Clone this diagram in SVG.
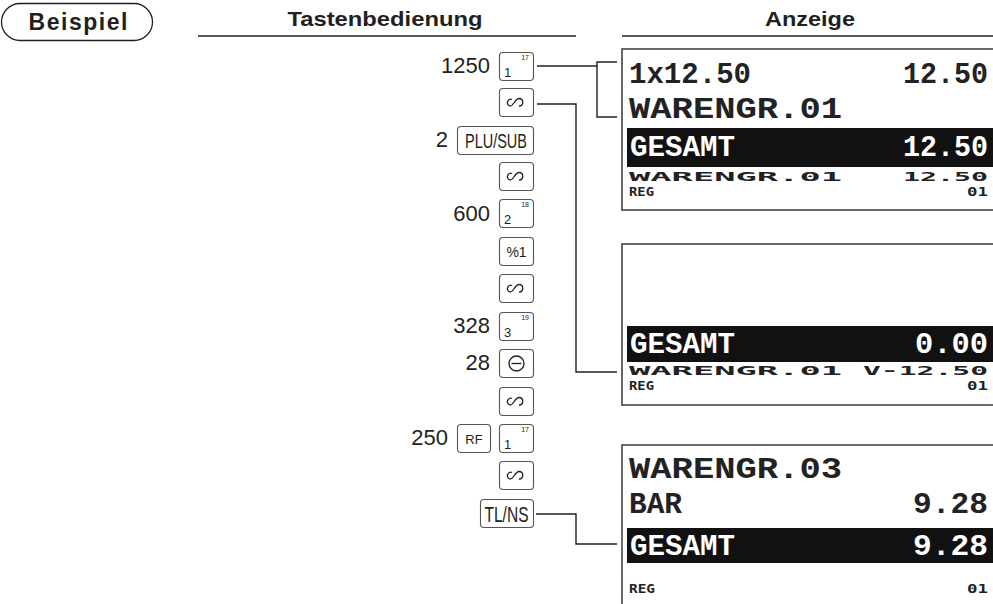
<svg xmlns="http://www.w3.org/2000/svg" width="993" height="604" viewBox="0 0 993 604">
<defs>
<style>
.hd{font-family:"Liberation Sans",Arial,sans-serif;font-weight:bold;font-size:21px;fill:#231f20}
.num{font-family:"Liberation Sans",Arial,sans-serif;font-size:22px;fill:#231f20}
.key{fill:#fff;stroke:#555;stroke-width:1.1}
.kl{font-family:"Liberation Sans",Arial,sans-serif;fill:#231f20}
.sup{font-family:"Liberation Sans",Arial,sans-serif;font-size:7px;fill:#231f20}
.ln{fill:none;stroke:#231f20;stroke-width:1.4}
.box{fill:#fff;stroke:#444;stroke-width:1.6}
.bar{fill:#111}
.lg{font-family:"Liberation Mono","DejaVu Sans Mono",monospace;font-weight:bold;font-size:30px;fill:#222}
.lw{font-family:"Liberation Mono","DejaVu Sans Mono",monospace;font-weight:bold;font-size:30px;fill:#fff}
.sm{font-family:"DejaVu Sans Mono","Liberation Mono",monospace;font-weight:bold;font-size:12.5px;fill:#222}
.ic{fill:none;stroke:#231f20;stroke-width:1.3}
</style>
<path id="sym" d="M-4,-3 C-8,-5 -11,2 -6,3.5 C-3,4.5 -1,-4 3,-4 C8,-4 8,4 3,3.5"/>
</defs>

<g id="beispiel">
<rect x="1.5" y="3.5" width="151" height="37" rx="18.5" fill="#fff" stroke="#231f20" stroke-width="1.3"/>
<text class="hd" x="78" y="30" style="font-size:23px" text-anchor="middle" textLength="99" lengthAdjust="spacing">Beispiel</text>
</g>

<g id="header-keys">
<text class="hd" x="385" y="26" text-anchor="middle" textLength="195" lengthAdjust="spacingAndGlyphs">Tastenbedienung</text>
<line x1="198" y1="36" x2="576" y2="36" stroke="#231f20" stroke-width="1.4"/>
</g>
<g id="header-display">
<text class="hd" x="810" y="26" text-anchor="middle" textLength="90" lengthAdjust="spacingAndGlyphs">Anzeige</text>
<line x1="622" y1="36" x2="993" y2="36" stroke="#231f20" stroke-width="1.4"/>
</g>

<g id="k1">
<text class="num" x="490" y="73" text-anchor="end">1250</text>
<rect class="key" x="499.5" y="52.5" width="34" height="28" rx="3.5"/>
<text class="kl" x="504" y="77" font-size="13">1</text>
<text class="sup" x="529" y="60" text-anchor="end">17</text>
</g>
<g id="k2">
<rect class="key" x="499.5" y="88.5" width="34" height="28" rx="3.5"/>
<use href="#sym" x="516" y="102.5" class="ic"/>
</g>
<g id="k3">
<text class="num" x="448" y="147" text-anchor="end">2</text>
<rect class="key" x="457.5" y="126.5" width="76" height="28" rx="3.5"/>
<text class="kl" x="496" y="148" font-size="20" text-anchor="middle" textLength="62" lengthAdjust="spacingAndGlyphs">PLU/SUB</text>
</g>
<g id="k4">
<rect class="key" x="499.5" y="162.5" width="34" height="28" rx="3.5"/>
<use href="#sym" x="516" y="176.5" class="ic"/>
</g>
<g id="k5">
<text class="num" x="490" y="221" text-anchor="end">600</text>
<rect class="key" x="499.5" y="199.5" width="34" height="28" rx="3.5"/>
<text class="kl" x="504" y="224" font-size="13">2</text>
<text class="sup" x="529" y="207" text-anchor="end">18</text>
</g>
<g id="k6">
<rect class="key" x="499.5" y="237.5" width="34" height="28" rx="3.5"/>
<text class="kl" x="516.5" y="257" font-size="14" text-anchor="middle">%1</text>
</g>
<g id="k7">
<rect class="key" x="499.5" y="274.5" width="34" height="28" rx="3.5"/>
<use href="#sym" x="516" y="288.5" class="ic"/>
</g>
<g id="k8">
<text class="num" x="490" y="333" text-anchor="end">328</text>
<rect class="key" x="499.5" y="312.5" width="34" height="28" rx="3.5"/>
<text class="kl" x="504" y="337" font-size="13">3</text>
<text class="sup" x="529" y="320" text-anchor="end">19</text>
</g>
<g id="k9">
<text class="num" x="490" y="370" text-anchor="end">28</text>
<rect class="key" x="499.5" y="349.5" width="34" height="28" rx="3.5"/>
<circle class="ic" cx="516.5" cy="363.5" r="7.5"/>
<line class="ic" x1="511.5" y1="363.5" x2="521.5" y2="363.5"/>
</g>
<g id="k10">
<rect class="key" x="499.5" y="387.5" width="34" height="28" rx="3.5"/>
<use href="#sym" x="516" y="401.5" class="ic"/>
</g>
<g id="k11">
<text class="num" x="448" y="445" text-anchor="end">250</text>
<rect class="key" x="457.5" y="424.5" width="33" height="28" rx="3.5"/>
<text class="kl" x="474" y="444" font-size="13" text-anchor="middle">RF</text>
<rect class="key" x="499.5" y="424.5" width="34" height="28" rx="3.5"/>
<text class="kl" x="504" y="449" font-size="13">1</text>
<text class="sup" x="529" y="432" text-anchor="end">17</text>
</g>
<g id="k12">
<rect class="key" x="499.5" y="461.5" width="34" height="28" rx="3.5"/>
<use href="#sym" x="516" y="475.5" class="ic"/>
</g>
<g id="k13">
<rect class="key" x="480.5" y="499.5" width="53" height="28" rx="3.5"/>
<text class="kl" x="506.5" y="522" font-size="22" text-anchor="middle" textLength="44" lengthAdjust="spacingAndGlyphs">TL/NS</text>
</g>

<g id="display1">
<rect class="box" x="622" y="49" width="380" height="161"/>
<text class="lg" x="629" y="83" textLength="122" lengthAdjust="spacingAndGlyphs">1x12.50</text>
<text class="lg" x="988" y="83" text-anchor="end" textLength="85" lengthAdjust="spacingAndGlyphs">12.50</text>
<text class="lg" x="629" y="118" textLength="213" lengthAdjust="spacingAndGlyphs">WARENGR.01</text>
<rect class="bar" x="627" y="128" width="366" height="39"/>
<text class="lw" x="630" y="156" textLength="105" lengthAdjust="spacingAndGlyphs">GESAMT</text>
<text class="lw" x="988" y="156" text-anchor="end" textLength="85" lengthAdjust="spacingAndGlyphs">12.50</text>
<text class="sm" x="629" y="181" textLength="213" lengthAdjust="spacingAndGlyphs">WARENGR.01</text>
<text class="sm" x="988" y="181" text-anchor="end" textLength="85" lengthAdjust="spacingAndGlyphs">12.50</text>
<text class="sm" x="629" y="196" textLength="25" lengthAdjust="spacingAndGlyphs">REG</text>
<text class="sm" x="988" y="196" text-anchor="end" textLength="21" lengthAdjust="spacingAndGlyphs">01</text>
</g>

<g id="display2">
<rect class="box" x="622" y="244" width="380" height="161"/>
<rect class="bar" x="627" y="326" width="366" height="36"/>
<text class="lw" x="630" y="353" textLength="105" lengthAdjust="spacingAndGlyphs">GESAMT</text>
<text class="lw" x="988" y="353" text-anchor="end" textLength="73" lengthAdjust="spacingAndGlyphs">0.00</text>
<text class="sm" x="629" y="375" textLength="213" lengthAdjust="spacingAndGlyphs">WARENGR.01</text>
<text class="sm" x="988" y="375" text-anchor="end" textLength="125" lengthAdjust="spacingAndGlyphs">V-12.50</text>
<text class="sm" x="629" y="390" textLength="25" lengthAdjust="spacingAndGlyphs">REG</text>
<text class="sm" x="988" y="390" text-anchor="end" textLength="21" lengthAdjust="spacingAndGlyphs">01</text>
</g>

<g id="display3">
<rect class="box" x="622" y="445" width="380" height="180"/>
<text class="lg" x="629" y="478" textLength="213" lengthAdjust="spacingAndGlyphs">WARENGR.03</text>
<text class="lg" x="629" y="513" textLength="53" lengthAdjust="spacingAndGlyphs">BAR</text>
<text class="lg" x="988" y="513" text-anchor="end" textLength="75" lengthAdjust="spacingAndGlyphs">9.28</text>
<rect class="bar" x="627" y="528" width="366" height="35"/>
<text class="lw" x="630" y="555" textLength="105" lengthAdjust="spacingAndGlyphs">GESAMT</text>
<text class="lw" x="988" y="555" text-anchor="end" textLength="75" lengthAdjust="spacingAndGlyphs">9.28</text>
<text class="sm" x="629" y="593" textLength="26" lengthAdjust="spacingAndGlyphs">REG</text>
<text class="sm" x="988" y="593" text-anchor="end" textLength="21" lengthAdjust="spacingAndGlyphs">01</text>
</g>

<g id="connectors">
<path class="ln" d="M537,66 H597"/>
<path class="ln" d="M617,62 H597 V117 H617"/>
<path class="ln" d="M537,104 H576 V372 H617"/>
<path class="ln" d="M536,514 H576 V544 H617"/>
</g>
</svg>
